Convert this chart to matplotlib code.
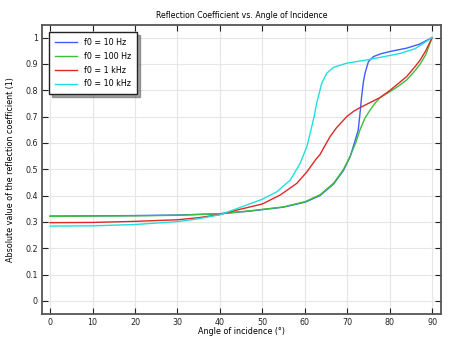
import numpy as np
import matplotlib
matplotlib.use('Agg')
import matplotlib.pyplot as plt
from matplotlib.ticker import FuncFormatter

# angle of incidence (deg) and |R|, one set per f0
x_10hz = [0, 10, 20, 30, 40, 47.1, 55, 60.1, 63.6, 66.8, 69.1, 70.7, 71.7, 72.6, 73.0, 73.4, 73.8, 74.2, 75.0, 76.2, 77.8, 80, 84, 87, 90]
y_10hz = [0.322, 0.323, 0.324, 0.326, 0.331, 0.341, 0.356, 0.375, 0.400, 0.444, 0.495, 0.548, 0.60, 0.649, 0.71, 0.776, 0.83, 0.865, 0.909, 0.928, 0.938, 0.947, 0.96, 0.975, 1.0]

x_100hz = [0, 10, 20, 30, 40, 47.1, 55, 60.1, 63.6, 66.8, 69.1, 70.7, 72.0, 73.0, 74.2, 75.4, 76.5, 77.8, 80.1, 82, 84, 86, 87.2, 88.5, 90]
y_100hz = [0.321, 0.322, 0.323, 0.325, 0.331, 0.342, 0.357, 0.377, 0.403, 0.447, 0.499, 0.55, 0.60, 0.649, 0.695, 0.725, 0.75, 0.773, 0.795, 0.815, 0.839, 0.875, 0.90, 0.935, 1.0]

x_1khz = [0, 10, 20, 30, 35, 40, 44.8, 50, 54.2, 58.1, 60.5, 62.5, 63.6, 64.6, 66, 67.5, 69.9, 71.5, 73, 75, 77.8, 80.1, 82, 84, 86, 87.2, 88.5, 90]
y_1khz = [0.297, 0.298, 0.302, 0.308, 0.316, 0.328, 0.348, 0.368, 0.402, 0.446, 0.49, 0.535, 0.556, 0.585, 0.625, 0.658, 0.70, 0.72, 0.734, 0.75, 0.773, 0.80, 0.825, 0.852, 0.89, 0.915, 0.95, 1.0]

x_10khz = [0, 10, 20, 30, 35, 40, 44.8, 50, 53.4, 56.6, 58.9, 60.5, 61.4, 62.2, 62.8, 64, 65.2, 66.8, 69.9, 74.6, 77.8, 82.5, 86, 90]
y_10khz = [0.284, 0.285, 0.29, 0.301, 0.312, 0.327, 0.355, 0.386, 0.414, 0.459, 0.522, 0.586, 0.645, 0.70, 0.75, 0.827, 0.865, 0.887, 0.903, 0.915, 0.925, 0.94, 0.958, 1.0]

series = [
    ('f0 = 10 Hz', x_10hz, y_10hz, '#3f5cff'),
    ('f0 = 100 Hz', x_100hz, y_100hz, '#3cbf3c'),
    ('f0 = 1 kHz', x_1khz, y_1khz, '#e02828'),
    ('f0 = 10 kHz', x_10khz, y_10khz, '#22dede'),
]

fs = 5.8
plt.rcParams['font.family'] = 'DejaVu Sans'
fig = plt.figure(figsize=(4.52, 3.39), dpi=100)
ax = fig.add_axes([0.0929, 0.0737, 0.8828, 0.8526])

for label, xs, ys, c in series:
    ax.plot(xs, ys, color=c, lw=1.0, label=label)

ax.set_xlim(-1.9, 92.1)
ax.set_ylim(-0.05, 1.048)
ax.set_xticks(np.arange(0, 91, 10))
ax.set_yticks(np.arange(0, 1.01, 0.1))
ax.yaxis.set_major_formatter(FuncFormatter(lambda v, p: ('%.1f' % v).rstrip('0').rstrip('.') if v else '0'))
ax.grid(True, color='#e6e6e6', lw=0.8)
ax.set_axisbelow(True)
ax.tick_params(direction='in', length=4, width=0.8, labelsize=fs, colors='#222222',
               top=True, right=True, pad=3)
for s in ax.spines.values():
    s.set_color('#555555')
    s.set_linewidth(1.3)

ax.set_title('Reflection Coefficient vs. Angle of Incidence', fontsize=5.6, pad=5)
ax.set_xlabel('Angle of incidence (°)', fontsize=fs, labelpad=0)
ax.set_ylabel('Absolute value of the reflection coefficient (1)', fontsize=fs, labelpad=7)

leg = ax.legend(loc='upper left', fontsize=fs, frameon=True, fancybox=False, shadow=True,
                handlelength=2.8, borderpad=0.7, labelspacing=0.6, borderaxespad=0.9)
leg.get_frame().set_edgecolor('#222222')
leg.get_frame().set_linewidth(1.0)

plt.savefig('out.png', dpi=100)
